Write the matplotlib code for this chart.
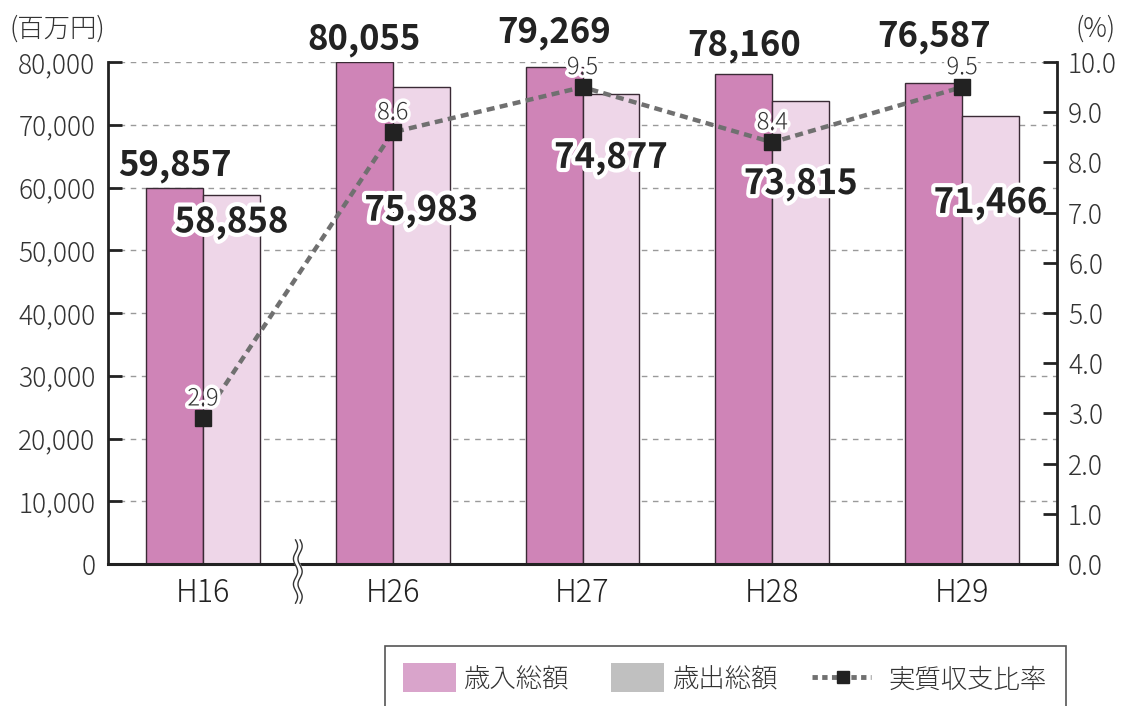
import numpy as np
import matplotlib
matplotlib.use("Agg")
import matplotlib.pyplot as plt
import matplotlib.patheffects as pe
import matplotlib.transforms as mtransforms
from matplotlib.lines import Line2D
from matplotlib.patches import Rectangle

plt.rcParams['font.family'] = ['Noto Sans CJK JP', 'DejaVu Sans']

# ---- data ----
categories = ["H16", "H26", "H27", "H28", "H29"]
revenue = [59857, 80055, 79269, 78160, 76587]      # 歳入総額
expenditure = [58858, 75983, 74877, 73815, 71466]  # 歳出総額
ratio = [2.9, 8.6, 9.5, 8.4, 9.5]                  # 実質収支比率
left_ticks = [0, 10000, 20000, 30000, 40000, 50000, 60000, 70000, 80000]
right_ticks = [0, 1, 2, 3, 4, 5, 6, 7, 8, 9, 10]
legend_labels = ["歳入総額", "歳出総額", "実質収支比率"]

# label offsets (points, relative to bar top)
rev_label_offsets = [16.5, 16, 24.5, 20, 33.5]
exp_label_offsets = [-20, -89, -46, -60, -63]

c_rev = "#cf84b7"
c_exp = "#eed6e8"
c_line = "#707070"
txt = "#222222"
W, H = 1127, 706

fig = plt.figure(figsize=(W/100, H/100), dpi=100)
ax = fig.add_axes([108/W, (H-564)/H, (1057-108)/W, (564-62)/H])
ax2 = ax.twinx()

x = np.arange(len(categories))
w = 0.3
ax.bar(x - w/2, revenue, w, color=c_rev, edgecolor="#3a2a35", linewidth=1.0, zorder=2)
ax.bar(x + w/2, expenditure, w, color=c_exp, edgecolor="#3a2a35", linewidth=1.0, zorder=2)

ax.set_xlim(-0.5, 4.5)
ax.set_ylim(0, 80000)
ax.set_yticks(left_ticks)
ax.set_yticklabels([f"{v:,}" for v in left_ticks])
ax.set_xticks(x)
ax.set_xticklabels(categories)
ax.yaxis.grid(True, color="#9a9a9a", linestyle=(0, (4, 4)), linewidth=1.0, zorder=0)
ax.set_axisbelow(True)

ax.spines["top"].set_visible(False)
ax2.spines["top"].set_visible(False)
ax.spines["left"].set_linewidth(2.0)
ax.spines["left"].set_color("#222222")
ax.spines["bottom"].set_linewidth(2.2)
ax.spines["bottom"].set_color("#222222")
ax2.spines["right"].set_linewidth(2.0)
ax2.spines["right"].set_color("#222222")
ax2.spines["left"].set_visible(False)
ax2.spines["bottom"].set_visible(False)

ax.tick_params(axis="y", direction="in", length=10, width=2, color="#222222",
               labelsize=19, labelcolor="#333333", pad=9)
ax.tick_params(axis="x", length=0, labelsize=22, labelcolor="#222222", pad=9)
for lab in ax.get_yticklabels() + ax.get_xticklabels():
    lab.set_fontweight("light")

ax2.set_ylim(0, 10)
ax2.set_yticks(right_ticks)
ax2.set_yticklabels([f"{v:.1f}" for v in right_ticks])
ax2.tick_params(axis="y", direction="in", length=10, width=2, color="#222222",
                labelsize=19, labelcolor="#333333", pad=8)
for lab in ax2.get_yticklabels():
    lab.set_fontweight("light")
    lab.set_va("center_baseline")

# ratio line
ax2.plot(x, ratio, color=c_line, linewidth=3.2, linestyle=(0, (1.8, 1.2)),
         marker="s", markersize=11.5, markerfacecolor="#222222", markeredgecolor="#222222",
         zorder=5)

stroke = [pe.withStroke(linewidth=5, foreground="white")]
for xi, r in zip(x, ratio):
    ax2.annotate(f"{r}", (xi, r), xytext=(0, 14), textcoords="offset points",
                 ha="center", va="center", fontsize=17, fontweight="light",
                 color="#333333", path_effects=stroke, zorder=6)

for xi, v, off in zip(x, revenue, rev_label_offsets):
    ax.annotate(f"{v:,}", (xi - w/2, v), xytext=(0, off), textcoords="offset points",
                ha="center", va="center", fontsize=25, fontweight="bold", color=txt,
                zorder=7, annotation_clip=False)

for xi, v, off in zip(x, expenditure, exp_label_offsets):
    ax.annotate(f"{v:,}", (xi + w/2, v), xytext=(0, off), textcoords="offset points",
                ha="center", va="center", fontsize=25, fontweight="bold", color=txt,
                zorder=8, annotation_clip=False,
                path_effects=[pe.withStroke(linewidth=6, foreground="white")])

# axis break mark between H16 and H26
trans = mtransforms.blended_transform_factory(ax.transData, ax.transAxes)
yy = np.linspace(-0.078, 0.048, 80)
amp = 0.011
wave = amp * np.sin((yy - yy[0]) / (yy[-1] - yy[0]) * 2.5 * 2 * np.pi)
xa = 0.5 - 0.012 + wave
xb = 0.5 + 0.012 + wave
ax.fill_betweenx(yy, xa, xb, color="white", transform=trans, clip_on=False, zorder=9)
ax.plot(xa, yy, color="#333333", lw=1.0, transform=trans, clip_on=False, zorder=10)
ax.plot(xb, yy, color="#333333", lw=1.0, transform=trans, clip_on=False, zorder=10)

# unit labels
fig.text(10/W, 1 - 29/H, "(百万円)", fontsize=19, fontweight="light", color="#333333",
         va="center", ha="left")
fig.text(1075/W, 1 - 29/H, "(%)", fontsize=19, fontweight="light", color="#333333",
         va="center", ha="left")

# legend (drawn manually)
def fx(px):
    return px / W

def fy(py):
    return 1 - py / H

fig.patches.append(Rectangle((fx(385), fy(H + 5)), fx(1066) - fx(385), fy(646) - fy(H + 5),
                             transform=fig.transFigure, fill=False,
                             edgecolor="#555555", linewidth=1.2))
ly = 677
fig.patches.append(Rectangle((fx(403), fy(692)), fx(456) - fx(403), fy(663) - fy(692),
                             transform=fig.transFigure, facecolor="#d9a4cb", edgecolor="none"))
fig.patches.append(Rectangle((fx(611), fy(692)), fx(664) - fx(611), fy(663) - fy(692),
                             transform=fig.transFigure, facecolor="#c0c0c0", edgecolor="none"))
fig.lines.append(Line2D([fx(812), fx(871)], [fy(ly), fy(ly)], transform=fig.transFigure,
                        color=c_line, lw=3.5, linestyle=(0, (1.1, 0.9))))
fig.lines.append(Line2D([fx(843)], [fy(ly)], transform=fig.transFigure, marker="s",
                        markersize=8, color="#222222", markeredgecolor="#222222"))
for tx, lab in zip([463, 672, 888], legend_labels):
    fig.text(fx(tx), fy(ly), lab, fontsize=19, fontweight="light", color="#333333",
             va="center_baseline", ha="left")

fig.savefig("out.png", dpi=100)
